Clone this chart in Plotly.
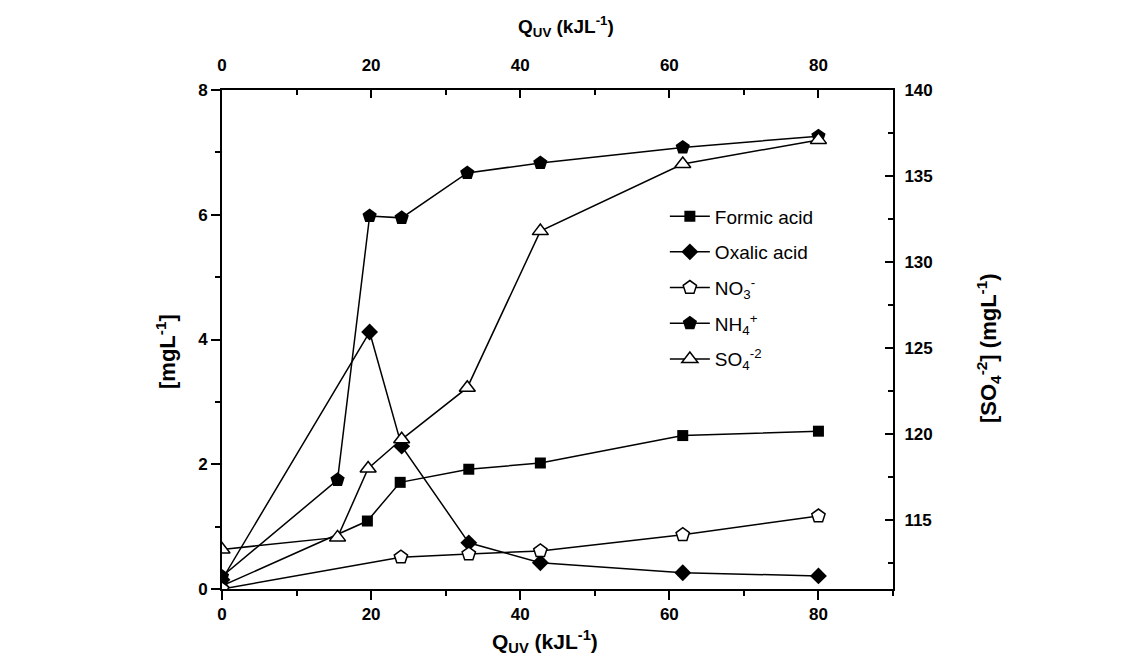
import plotly.graph_objects as go

# ---- data ----
q_formic = [0, 19.5, 23.9, 33.1, 42.7, 61.8, 80.0]
formic = [0.05, 1.09, 1.71, 1.92, 2.02, 2.46, 2.53]

q_oxalic = [0, 19.8, 24.1, 33.1, 42.7, 61.8, 80.0]
oxalic = [0.15, 4.12, 2.29, 0.74, 0.42, 0.26, 0.21]

q_no3 = [0, 24.0, 33.1, 42.7, 61.8, 80.0]
no3 = [0.0, 0.51, 0.56, 0.61, 0.87, 1.17]

q_nh4 = [0, 15.5, 19.8, 24.1, 32.9, 42.7, 61.8, 80.0]
nh4 = [0.2, 1.75, 5.98, 5.95, 6.67, 6.83, 7.08, 7.26]

q_so4 = [0, 15.5, 19.6, 24.1, 32.9, 42.7, 61.8, 80.0]
so4 = [113.3, 114.0, 118.0, 119.7, 122.7, 131.8, 135.7, 137.1]

names = ["Formic acid", "Oxalic acid", "NO<sub>3</sub><sup>-</sup>",
         "NH<sub>4</sub><sup>+</sup>", "SO<sub>4</sub><sup>-2</sup>"]

FONT = "Liberation Sans, Arial, sans-serif"
fig = go.Figure()

line = dict(color="black", width=1.5)
fig.add_trace(go.Scatter(x=q_formic, y=formic, name=names[0], mode="lines+markers", legendgroup="a",
                         line=line, marker=dict(symbol="square", size=11, color="black")))
fig.add_trace(go.Scatter(x=q_oxalic, y=oxalic, name=names[1], mode="lines+markers", legendgroup="b",
                         line=line, marker=dict(symbol="diamond", size=13, color="black")))
fig.add_trace(go.Scatter(x=q_no3, y=no3, name=names[2], mode="lines+markers", xaxis="x2", legendgroup="c",
                         line=line, marker=dict(symbol="pentagon", size=14, color="white",
                                                line=dict(color="black", width=1.5))))
fig.add_trace(go.Scatter(x=q_nh4, y=nh4, name=names[3], mode="lines+markers", legendgroup="d",
                         line=line, marker=dict(symbol="pentagon", size=15, color="black")))
fig.add_trace(go.Scatter(x=q_so4, y=so4, name=names[4], mode="lines+markers", yaxis="y2", legendgroup="e",
                         line=line, marker=dict(symbol="triangle-up", size=14, color="white",
                                                line=dict(color="black", width=1.5))))

tickfont = dict(family=FONT, size=17, color="black", weight="bold")
common = dict(showline=True, linecolor="black", linewidth=2, showgrid=False,
              zeroline=False, tickfont=tickfont, tickcolor="black", tickwidth=2)

W, H = 1134, 654
L, T, R, B = 214, 82, 249, 73
pw, ph = W - L - R, H - T - B

fig.update_layout(
    width=W, height=H,
    margin=dict(l=L, r=R, t=T, b=B),
    paper_bgcolor="white", plot_bgcolor="white",
    font=dict(family=FONT, color="black"),
    xaxis=dict(range=[0, 90], tickvals=[0, 20, 40, 60, 80], ticks="outside", ticklen=9,
               minor=dict(tickvals=[10, 30, 50, 70, 90], ticks="outside", ticklen=5,
                          tickcolor="black", tickwidth=2),
               anchor="y", **common),
    xaxis2=dict(range=[0, 90], tickvals=[0, 20, 40, 60, 80], ticks="inside", ticklen=8,
                minor=dict(tickvals=[10, 30, 50, 70], ticks="inside", ticklen=5,
                           tickcolor="black", tickwidth=2),
                side="top", overlaying="x", anchor="y", ticklabelstandoff=10, **common),
    yaxis=dict(range=[0, 8], tickvals=[0, 2, 4, 6, 8], ticks="outside", ticklen=9,
               minor=dict(tickvals=[1, 3, 5, 7], ticks="outside", ticklen=5,
                          tickcolor="black", tickwidth=2),
               anchor="x", **common),
    yaxis2=dict(range=[111, 140], tickvals=[115, 120, 125, 130, 135, 140], ticks="inside",
                ticklen=8,
                minor=dict(tickvals=[112.5, 117.5, 122.5, 127.5, 132.5, 137.5],
                           ticks="inside", ticklen=5, tickcolor="black", tickwidth=2),
                side="right", overlaying="y", anchor="x", ticklabelstandoff=6, **common),
    legend=dict(x=0.66, y=0.785, xanchor="left", yanchor="top",
                bgcolor="rgba(0,0,0,0)", font=dict(family=FONT, size=19, color="black"),
                tracegroupgap=8, itemwidth=40),
    showlegend=True,
)

fig.add_annotation(text="<b>Q<sub>UV</sub> (kJL<sup>-1</sup>)</b>", xref="paper", yref="paper",
                   x=(545 - 222) / pw, y=-(641 - 589) / ph, showarrow=False,
                   font=dict(family=FONT, size=21, color="black"),
                   xanchor="center", yanchor="middle")
fig.add_annotation(text="<b>Q<sub>UV</sub> (kJL<sup>-1</sup>)</b>", xref="paper", yref="paper",
                   x=(566 - 222) / pw, y=1 + (90 - 26) / ph, showarrow=False,
                   font=dict(family=FONT, size=19, color="black"),
                   xanchor="center", yanchor="middle")
fig.add_annotation(text="<b>[mgL<sup>-1</sup>]</b>", xref="paper", yref="paper",
                   x=-(222 - 166) / pw, y=(589 - 352) / ph, showarrow=False, textangle=-90,
                   font=dict(family=FONT, size=22, color="black"),
                   xanchor="center", yanchor="middle")
fig.add_annotation(text="<b>[SO<sub>4</sub><sup>-2</sup>] (mgL<sup>-1</sup>)</b>", xref="paper",
                   yref="paper", x=1 + (988 - 893) / pw, y=(589 - 348) / ph, showarrow=False,
                   textangle=-90, font=dict(family=FONT, size=22, color="black"),
                   xanchor="center", yanchor="middle")

fig.write_html("out.html")
